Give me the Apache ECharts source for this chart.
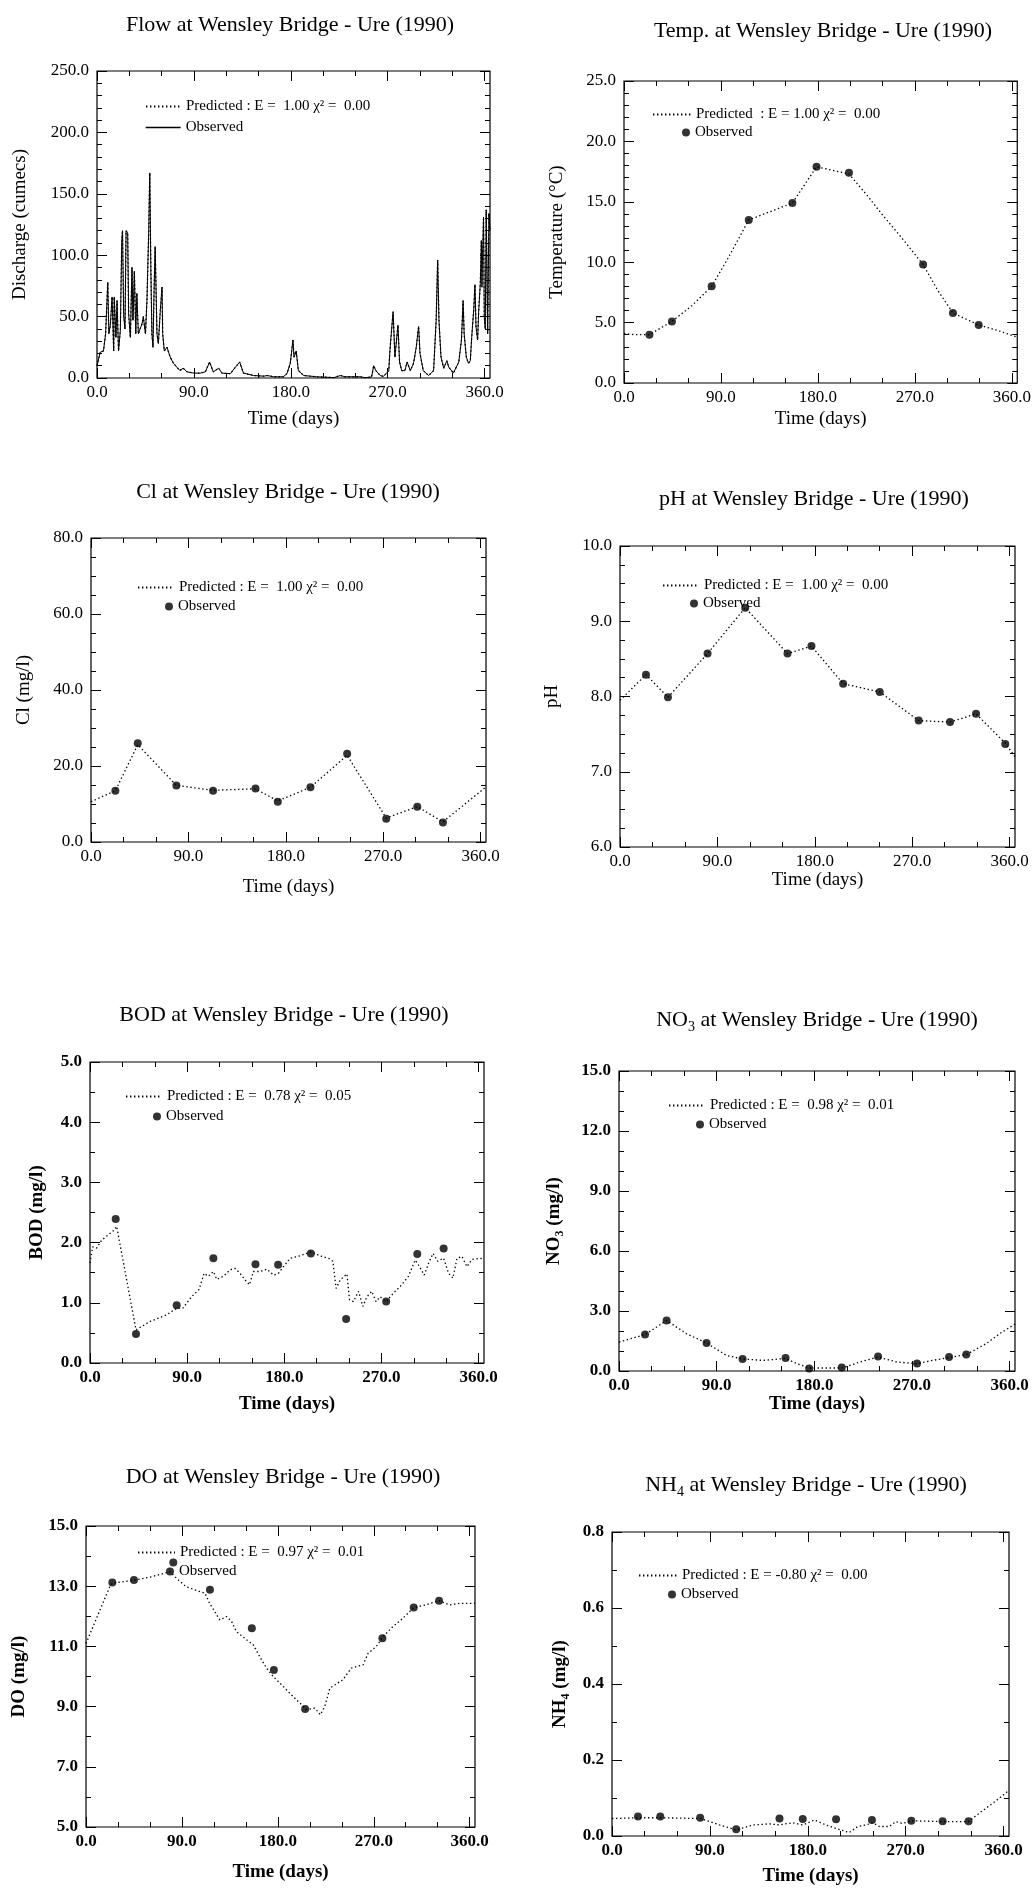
<!DOCTYPE html>
<html><head><meta charset="utf-8">
<script src="https://cdn.jsdelivr.net/npm/echarts@6/dist/echarts.min.js"></script>
<style>html,body{margin:0;padding:0;background:#fff}#c{width:1034px;height:1893px}</style>
</head><body><div id="c"></div>
<script>
// ---------------- DATA ----------------
const xTickLabels = [0, 90, 180, 270, 360];
const xMinorTicks = [30, 60, 120, 150, 210, 240, 300, 330];

// Flow (daily observed discharge, predicted identical)
const flowDays = [0,3,6,8,10,11,12.4,14,15.5,16,17.6,18.6,20,21.7,23,23.7,24.8,26,27,28.5,29.4,31,32.5,33.4,34.7,36,37,38.4,39.6,41.8,43,45,46.4,48,49,50,51,52,53,54,55.7,57,58.8,60.4,61,62.5,65,68,71,77,80,83.6,90,96,100.6,104.6,108,113,116,124,126,132.5,136,145.5,155,158,164,173,176.4,179.5,182,183,185,187,192,204,220,226,227.5,230.6,244.5,246,249,255,257,259,263,266,271,272,275,276.7,278,279.5,281,283,286,288,291,294,296.5,298.7,300,303,308,312.6,315,316.4,317.6,319.5,322,325,326.6,331,336,338.5,340,341,343,345,346.7,348,350,351,352,353.5,354.4,356,357,357.5,358,359,359.7,360.6,361.5,362.8,364,365];
const flowObserved = [10,21,22,36,78,36,43,66,22,66,33,63,22,39,112,120,50,40,120,118,52,33,90,47,87,36,69,36,39,44,50,36,63,118,167,90,36,25,71,107,36,28,55,74,36,22,25,17,12,6,8,5,4,4,5,13,5,8,4,3.5,6,13,4,2,1.5,2,1,1,3.5,12,31,17,22,6,2,1,0.3,2,3.5,1,1,2,0.3,0.8,10,6,2,1.3,6,22,54,17,17,43,13,6,6,13,6,12,25,42,20,6,2,6,47,96,47,17,8,14,9,4,13,31,63,36,17,12,14,33,57,76,42,31,53,77,112,74,96,131,50,40,137,36,134,120];
const flowPredicted = flowObserved.slice();
const flowYTicks = [0, 50, 100, 150, 200, 250];

// Temperature
const tempObsDays = [23.6, 44.5, 81.4, 115.8, 156.3, 178.7, 208.8, 277.6, 305.3, 329.2];
const tempObserved = [4.0, 5.1, 8.0, 13.5, 14.9, 17.9, 17.4, 9.8, 5.8, 4.8];
const tempPredDays = [0, 10, 23.6, 44.5, 63, 81.4, 97, 115.8, 156.3, 178.7, 208.8, 225, 241, 257, 277.6, 291, 305.3, 329.2, 345, 365];
const tempPredicted = [4.1, 4.0, 4.0, 5.1, 6.4, 8.0, 10.4, 13.5, 14.9, 17.9, 17.3, 15.6, 13.8, 12.1, 9.8, 7.7, 5.8, 4.8, 4.4, 3.8];
const tempYTicks = [0, 5, 10, 15, 20, 25];

// Cl
const clObsDays = [22.5, 43.2, 78.9, 112.8, 152, 172.6, 202.8, 236.7, 272.8, 301.5, 325.2];
const clObserved = [13.5, 26.0, 14.9, 13.5, 14.1, 10.6, 14.4, 23.2, 6.1, 9.3, 5.1];
const clPredDays = [0, 22.5, 43.2, 78.9, 112.8, 152, 172.6, 202.8, 236.7, 272.8, 301.5, 325.2, 365];
const clPredicted = [10.6, 13.5, 25.6, 14.9, 13.6, 14.0, 10.8, 14.4, 22.8, 6.3, 9.3, 5.3, 14.5];
const clYTicks = [0, 20, 40, 60, 80];

// pH
const phObsDays = [24, 44.3, 80.9, 115.7, 154.8, 176.9, 206.2, 240, 276, 305, 329, 356];
const phObserved = [8.29, 7.99, 8.57, 9.18, 8.57, 8.67, 8.17, 8.06, 7.68, 7.66, 7.77, 7.37];
const phPredDays = [0, 24, 44.3, 80.9, 115.7, 154.8, 176.9, 206.2, 240, 276, 305, 329, 356, 365];
const phPredicted = [7.95, 8.29, 7.99, 8.57, 9.18, 8.57, 8.67, 8.17, 8.06, 7.68, 7.66, 7.77, 7.38, 7.2];
const phYTicks = [6, 7, 8, 9, 10];

// BOD
const bodObsDays = [23.8, 42.6, 80.3, 114.3, 153.3, 174.3, 204.6, 237.3, 274.4, 303.2, 327.6];
const bodObserved = [2.39, 0.48, 0.96, 1.74, 1.64, 1.63, 1.82, 0.73, 1.02, 1.81, 1.90];
const bodPredDays = [0,2.5,6.2,10.8,17,22.6,24.7,42.6,55.6,71,80.3,86,94,101,105.7,109.7,114.3,117.4,123.6,129.8,134.4,139,143.7,147.7,151.4,157.6,163.8,170,174.6,179.2,185.4,194.7,204.6,213.2,221,225,228,231.8,238,240.4,244,248.8,252.8,256.5,261,265,268.8,274.4,281,287.4,295,301.3,305.3,309.6,313.7,317.8,322,327.6,332.2,336.2,340,344.6,349.2,353.8,361.5,365];
const bodPredicted = [1.66,1.93,1.91,2.04,2.13,2.21,2.27,0.55,0.69,0.80,0.91,0.91,1.10,1.22,1.49,1.44,1.52,1.39,1.44,1.55,1.57,1.49,1.38,1.30,1.52,1.52,1.56,1.46,1.49,1.60,1.74,1.78,1.85,1.78,1.74,1.69,1.24,1.38,1.48,1.05,1.02,1.19,0.94,1.10,1.19,1.02,1.10,1.02,1.16,1.27,1.44,1.71,1.60,1.46,1.66,1.82,1.69,1.74,1.49,1.41,1.74,1.77,1.60,1.72,1.74,1.72];
const bodYTicks = [0, 1, 2, 3, 4, 5];

// NO3
const no3ObsDays = [24, 43.9, 80.7, 113.9, 153.5, 175.3, 205.3, 238.8, 274.7, 304.2, 320.1];
const no3Observed = [1.82, 2.53, 1.40, 0.60, 0.65, 0.12, 0.17, 0.73, 0.37, 0.70, 0.82];
const no3PredDays = [0, 24, 43.9, 62, 80.7, 99, 113.9, 133, 153.5, 164, 175.3, 205.3, 222, 238.8, 256, 274.7, 289, 304.2, 320.1, 338.5, 351, 365];
const no3Predicted = [1.45, 1.82, 2.53, 1.87, 1.40, 0.78, 0.60, 0.53, 0.63, 0.37, 0.15, 0.15, 0.45, 0.70, 0.45, 0.37, 0.53, 0.67, 0.82, 1.37, 1.87, 2.35];
const no3YTicks = [0, 3, 6, 9, 12, 15];

// DO
const doObsDays = [24.7, 45, 81.9, 116.3, 155.6, 176.3, 205.6, 278.1, 307.5, 331.3];
const doObserved = [13.12, 13.21, 13.79, 12.88, 11.6, 10.22, 8.92, 11.27, 12.29, 12.52];
const doPredDays = [0, 22.5, 24.7, 45, 60, 78.8, 85, 94, 107, 111.6, 116, 125.6, 132, 136.6, 141, 150.6, 157, 163, 169.4, 175.6, 182, 191, 200.6, 207, 214.7, 220, 224, 228.8, 233.4, 241, 249, 260, 264.7, 272.5, 278.8, 288, 297.5, 307.5, 319, 331.3, 341, 350.6, 365];
const doPredicted = [11.1, 13.0, 13.1, 13.2, 13.3, 13.48, 13.26, 12.98, 12.82, 12.77, 12.43, 11.88, 11.99, 11.83, 11.5, 11.22, 11.05, 10.66, 10.28, 10.0, 9.78, 9.45, 9.12, 8.9, 8.95, 8.73, 9.0, 9.61, 9.72, 9.89, 10.28, 10.39, 10.77, 11.0, 11.33, 11.66, 11.94, 12.29, 12.38, 12.52, 12.38, 12.43, 12.43];
const doYTicks = [5, 7, 9, 11, 13, 15];

// NH4
const nh4ObsDays = [23.9, 44.4, 81.1, 114.2, 154, 175.4, 206, 239, 275.2, 304, 327.8];
const nh4Observed = [0.051, 0.051, 0.048, 0.018, 0.046, 0.045, 0.044, 0.042, 0.040, 0.039, 0.039];
const nh4PredDays = [0, 23.9, 44.4, 81.1, 99, 114.2, 129.5, 144.8, 154, 166, 175.4, 186, 196.8, 206, 218, 226, 233.5, 239.7, 245.8, 255, 261, 267, 275.2, 304, 327.8, 337.6, 350, 365];
const nh4Predicted = [0.046, 0.048, 0.048, 0.046, 0.029, 0.016, 0.029, 0.032, 0.029, 0.035, 0.029, 0.042, 0.029, 0.020, 0.009, 0.025, 0.029, 0.035, 0.025, 0.025, 0.038, 0.033, 0.040, 0.038, 0.038, 0.060, 0.086, 0.12];
const nh4YTicks = [0, 0.2, 0.4, 0.6, 0.8];

// ---------------- BUILD ----------------
const FONT = '"Liberation Serif","Times New Roman",serif';
const zip = (a, b) => a.map((d, i) => [d, b[i]]);
function minorBetween(major, step) {
  const out = [];
  for (let i = 0; i < major.length - 1; i++) {
    const n = Math.round((major[i + 1] - major[i]) / step);
    for (let k = 1; k < n; k++) out.push(+(major[i] + k * step).toFixed(4));
  }
  return out;
}

const panels = [
  { title: 'Flow at Wensley Bridge - Ure (1990)', cx: 290, ty: 11,
    grid: { left: 97, top: 71, width: 393, height: 307 }, yTicks: flowYTicks, yStep: 10,
    yName: 'Discharge (cumecs)', yGap: 65, xGap: 32, bold: false,
    leg: [145, 107, 128, 185], predText: 'Predicted : E =  1.00 χ² =  0.00',
    pred: zip(flowDays, flowPredicted), obs: zip(flowDays, flowObserved), obsLine: true },
  { title: 'Temp. at Wensley Bridge - Ure (1990)', cx: 823, ty: 17,
    grid: { left: 624, top: 81, width: 396, height: 302 }, yTicks: tempYTicks, yStep: 1,
    yName: 'Temperature (°C)', yGap: 55, xGap: 27, bold: false,
    leg: [652, 115, 133, 695], predText: 'Predicted  : E = 1.00 χ² =  0.00',
    pred: zip(tempPredDays, tempPredicted), obs: zip(tempObsDays, tempObserved) },
  { title: 'Cl at Wensley Bridge - Ure (1990)', cx: 288, ty: 478,
    grid: { left: 91, top: 538, width: 395, height: 304 }, yTicks: clYTicks, yStep: 5,
    yName: 'Cl (mg/l)', yGap: 55, xGap: 36, bold: false,
    leg: [137, 588, 607, 178], predText: 'Predicted : E =  1.00 χ² =  0.00',
    pred: zip(clPredDays, clPredicted), obs: zip(clObsDays, clObserved) },
  { title: 'pH at Wensley Bridge - Ure (1990)', cx: 814, ty: 485,
    grid: { left: 620, top: 546, width: 395, height: 301 }, yTicks: phYTicks, yStep: 0.25,
    yName: 'pH', yGap: 56, xGap: 24, bold: false,
    leg: [662, 586, 604, 703], predText: 'Predicted : E =  1.00 χ² =  0.00',
    pred: zip(phPredDays, phPredicted), obs: zip(phObsDays, phObserved) },
  { title: 'BOD at Wensley Bridge - Ure (1990)', cx: 284, ty: 1001,
    grid: { left: 90, top: 1062, width: 394, height: 301 }, yTicks: bodYTicks, yStep: 0.5,
    yName: 'BOD (mg/l)', yGap: 41, xGap: 32, bold: true,
    leg: [125, 1097, 1117, 166], predText: 'Predicted : E =  0.78 χ² =  0.05',
    pred: zip(bodPredDays, bodPredicted), obs: zip(bodObsDays, bodObserved) },
  { title: 'NO{sub|3} at Wensley Bridge - Ure (1990)', cx: 817, ty: 1006,
    grid: { left: 619, top: 1071, width: 396, height: 300 }, yTicks: no3YTicks, yStep: 1,
    yName: 'NO{sub|3} (mg/l)', yGap: 53, xGap: 20, bold: true,
    leg: [668, 1106, 1125, 709], predText: 'Predicted : E =  0.98 χ² =  0.01',
    pred: zip(no3PredDays, no3Predicted), obs: zip(no3ObsDays, no3Observed) },
  { title: 'DO at Wensley Bridge - Ure (1990)', cx: 283, ty: 1463,
    grid: { left: 86, top: 1526, width: 389, height: 301 }, yTicks: doYTicks, yStep: 1,
    yName: 'DO (mg/l)', yGap: 55, xGap: 36, bold: true,
    leg: [137, 1553, 1572, 179], predText: 'Predicted : E =  0.97 χ² =  0.01',
    pred: zip(doPredDays, doPredicted), obs: zip(doObsDays, doObserved) },
  { title: 'NH{sub|4} at Wensley Bridge - Ure (1990)', cx: 806, ty: 1471,
    grid: { left: 612, top: 1532, width: 397, height: 304 }, yTicks: nh4YTicks, yStep: 0.1,
    yName: 'NH{sub|4} (mg/l)', yGap: 40, xGap: 31, bold: true,
    leg: [638, 1576, 1595, 681], predText: 'Predicted : E = -0.80 χ² =  0.00',
    pred: zip(nh4PredDays, nh4Predicted), obs: zip(nh4ObsDays, nh4Observed) }
];

const option = {
  backgroundColor: '#fff', animation: false, color: ['#000'],
  textStyle: { fontFamily: FONT, color: '#000' },
  title: [], grid: [], xAxis: [], yAxis: [], series: [], legend: []
};

const tickLine = { color: '#000', width: 1 };
panels.forEach((p, gi) => {
  const fw = p.bold ? 'bold' : 'normal';
  option.title.push({
    text: p.title, left: p.cx, top: p.ty, textAlign: 'center', padding: 0,
    textStyle: { fontFamily: FONT, fontSize: 22, fontWeight: 'normal', color: '#000', lineHeight: 28,
      rich: { sub: { fontFamily: FONT, fontSize: 14, color: '#000', verticalAlign: 'bottom', lineHeight: 28 } } }
  });
  option.grid.push(Object.assign({ show: true, borderColor: '#000', borderWidth: 1.2, backgroundColor: '#fff', containLabel: false }, p.grid));

  const ymin = p.yTicks[0], ymax = p.yTicks[p.yTicks.length - 1];
  const yMinor = minorBetween(p.yTicks, p.yStep);
  const axLine = { show: false, onZero: false };
  const lbl = { color: '#000', fontFamily: FONT, fontSize: 17, fontWeight: fw };
  const xc = { type: 'value', gridIndex: gi, min: 0, max: 365, splitLine: { show: false }, axisLine: axLine };
  const yc = { type: 'value', gridIndex: gi, min: ymin, max: ymax, splitLine: { show: false }, axisLine: axLine };
  option.xAxis.push(
    Object.assign({}, xc, { position: 'bottom',
      axisTick: { show: true, inside: true, length: 10, customValues: xTickLabels, lineStyle: tickLine },
      axisLabel: Object.assign({ show: true, customValues: xTickLabels, margin: 6, formatter: v => Number(v).toFixed(1) }, lbl),
      name: 'Time (days)', nameLocation: 'middle', nameGap: p.xGap,
      nameTextStyle: { fontFamily: FONT, fontSize: 19, fontWeight: fw, color: '#000' } }),
    Object.assign({}, xc, { position: 'bottom', axisTick: { show: true, inside: true, length: 5, customValues: xMinorTicks, lineStyle: tickLine }, axisLabel: { show: false } }),
    Object.assign({}, xc, { position: 'top', axisTick: { show: true, inside: true, length: 10, customValues: xTickLabels, lineStyle: tickLine }, axisLabel: { show: false } }),
    Object.assign({}, xc, { position: 'top', axisTick: { show: true, inside: true, length: 5, customValues: xMinorTicks, lineStyle: tickLine }, axisLabel: { show: false } })
  );
  option.yAxis.push(
    Object.assign({}, yc, { position: 'left',
      axisTick: { show: true, inside: true, length: 10, customValues: p.yTicks, lineStyle: tickLine },
      axisLabel: Object.assign({ show: true, customValues: p.yTicks, margin: 8, formatter: v => Number(v).toFixed(1) }, lbl),
      name: p.yName, nameLocation: 'middle', nameGap: p.yGap,
      nameTextStyle: { fontFamily: FONT, fontSize: 19, fontWeight: fw, color: '#000', lineHeight: 24,
        rich: { sub: { fontFamily: FONT, fontSize: 12, fontWeight: fw, color: '#000', verticalAlign: 'bottom', lineHeight: 24 } } } }),
    Object.assign({}, yc, { position: 'left', axisTick: { show: true, inside: true, length: 5, customValues: yMinor, lineStyle: tickLine }, axisLabel: { show: false } }),
    Object.assign({}, yc, { position: 'right', axisTick: { show: true, inside: true, length: 10, customValues: p.yTicks, lineStyle: tickLine }, axisLabel: { show: false } }),
    Object.assign({}, yc, { position: 'right', axisTick: { show: true, inside: true, length: 5, customValues: yMinor, lineStyle: tickLine }, axisLabel: { show: false } })
  );

  const ai = gi * 4;
  const predName = 'Predicted ' + gi;
  const obsName = 'Observed ' + gi;
  if (p.obsLine) {
    option.series.push({ name: obsName, type: 'line', xAxisIndex: ai, yAxisIndex: ai, data: p.obs, color: '#000',
      symbol: 'none', itemStyle: { color: '#000' }, lineStyle: { color: '#000', width: 1, type: 'solid' }, silent: true, z: 2 });
  }
  option.series.push({ name: predName, type: 'line', xAxisIndex: ai, yAxisIndex: ai, data: p.pred, color: '#000',
    symbol: 'none', itemStyle: { color: '#000' }, lineStyle: { color: '#000', width: 1.3, type: [1.4, 2.6] }, silent: true, z: 3 });
  if (!p.obsLine) {
    option.series.push({ name: obsName, type: 'scatter', xAxisIndex: ai, yAxisIndex: ai, data: p.obs, color: '#000',
      symbol: 'circle', symbolSize: 8, itemStyle: { color: '#000' }, silent: true, z: 4 });
  }

  const [lx, py, oy, tx] = p.leg;
  const lw = tx - lx - 5;
  const ltext = { fontFamily: FONT, fontSize: 15, color: '#000' };
  option.legend.push({
    data: [predName], left: lx, top: py - 8, orient: 'vertical', padding: 0,
    itemWidth: lw, itemHeight: 14, selectedMode: false, formatter: () => p.predText, textStyle: ltext,
    itemStyle: { opacity: 0 }, lineStyle: { color: '#000' }
  });
  if (p.obsLine) {
    option.legend.push({
      data: [obsName], left: lx, top: oy - 8, orient: 'vertical', padding: 0,
      itemWidth: lw, itemHeight: 14, selectedMode: false, formatter: () => 'Observed', textStyle: ltext,
      itemStyle: { opacity: 0 }, lineStyle: { color: '#000', width: 1.3 }
    });
  } else {
    option.legend.push({
      data: [obsName], left: tx - 13, top: oy - 8, orient: 'vertical', padding: 0,
      itemWidth: 8, itemHeight: 8, selectedMode: false, formatter: () => 'Observed', textStyle: ltext,
      itemStyle: { color: '#000' }
    });
  }
});

const chart = echarts.init(document.getElementById('c'), null, { renderer: 'canvas', width: 1034, height: 1893 });
chart.setOption(option);
</script></body></html>
